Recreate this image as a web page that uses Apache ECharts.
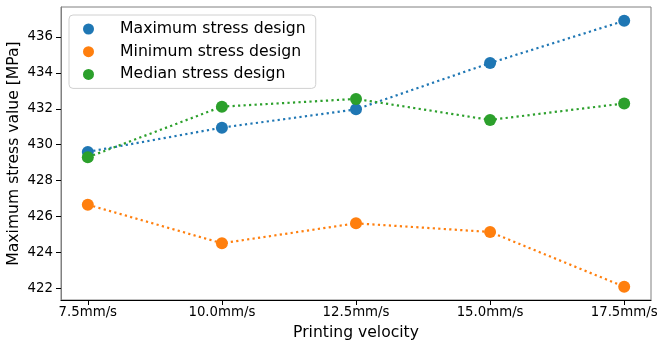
<!DOCTYPE html>
<html>
<head>
<meta charset="utf-8">
<script src="https://cdn.jsdelivr.net/npm/echarts@6/dist/echarts.min.js"></script>
<style>
html,body{margin:0;padding:0;background:#fff;}
#chart{width:665px;height:348px;}
</style>
</head>
<body>
<div id="chart"></div>
<script>
const velocities = [7.5, 10.0, 12.5, 15.0, 17.5];
const xTickLabels = ['7.5mm/s', '10.0mm/s', '12.5mm/s', '15.0mm/s', '17.5mm/s'];
const yTicks = [422, 424, 426, 428, 430, 432, 434, 436];
const maxStress = [429.6, 430.95, 431.97, 434.55, 436.9];
const minStress = [426.66, 424.51, 425.62, 425.14, 422.09];
const medianStress = [429.3, 432.12, 432.55, 431.38, 432.3];
const seriesNames = ['Maximum stress design', 'Minimum stress design', 'Median stress design'];
const colors = ['#1f77b4', '#ff7f0e', '#2ca02c'];

const font = 'DejaVu Sans';
const chart = echarts.init(document.getElementById('chart'), null, {renderer: 'canvas'});

function mk(name, vals, color) {
  return {
    name: name,
    type: 'line',
    data: velocities.map((v, i) => [v, vals[i]]),
    symbol: 'circle',
    symbolSize: 12,
    itemStyle: {color: color},
    lineStyle: {color: color, width: 2.2, type: [2.2, 3.3]},
    emphasis: {disabled: true},
    animation: false
  };
}

chart.setOption({
  animation: false,
  grid: {left: 61, right: 14, top: 7, bottom: 48, show: true, borderColor: '#808080', borderWidth: 1,
    containLabel: false, outerBoundsMode: 'none'},
  legend: {
    orient: 'vertical',
    left: 69, top: 15,
    padding: [5, 10, 5, 14],
    itemGap: 4.7,
    itemWidth: 11, itemHeight: 11,
    icon: 'circle',
    borderColor: '#d0d0d0', borderWidth: 1, borderRadius: 4,
    backgroundColor: 'rgba(255,255,255,0.8)',
    textStyle: {fontFamily: font, fontSize: 15.7, color: '#000', lineHeight: 18, padding: [0, 0, 0, 21]},
    data: seriesNames
  },
  xAxis: {
    type: 'value', min: 7, max: 18,
    name: 'Printing velocity', nameLocation: 'middle', nameGap: 25, nameMoveOverlap: false,
    nameTextStyle: {fontFamily: font, fontSize: 15.6, color: '#000'},
    axisLine: {show: true, lineStyle: {color: '#000', width: 1.2}},
    axisTick: {show: true, length: 5, customValues: velocities, lineStyle: {color: '#000'}},
    axisLabel: {customValues: velocities, fontFamily: font, fontSize: 13.3, color: '#000', margin: 6,
      formatter: v => xTickLabels[velocities.indexOf(v)]},
    splitLine: {show: false}
  },
  yAxis: {
    type: 'value', min: 421.35, max: 437.67,
    name: 'Maximum stress value [MPa]', nameLocation: 'middle', nameGap: 39, nameRotate: 90, nameMoveOverlap: false,
    nameTextStyle: {fontFamily: font, fontSize: 15.6, color: '#000'},
    axisLine: {show: true, lineStyle: {color: '#808080', width: 1}},
    axisTick: {show: true, length: 5, customValues: yTicks, lineStyle: {color: '#000'}},
    axisLabel: {customValues: yTicks, fontFamily: font, fontSize: 13.3, color: '#000', margin: 8},
    splitLine: {show: false}
  },
  series: [
    mk(seriesNames[0], maxStress, colors[0]),
    mk(seriesNames[1], minStress, colors[1]),
    mk(seriesNames[2], medianStress, colors[2])
  ]
});
</script>
</body>
</html>
